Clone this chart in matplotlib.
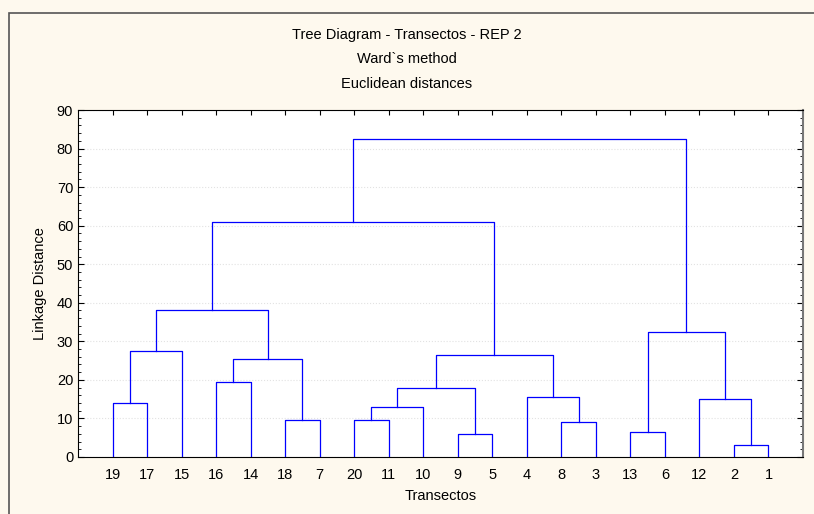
import matplotlib.pyplot as plt
from matplotlib.patches import Rectangle
from matplotlib.ticker import MultipleLocator

plt.rcParams['font.family'] = ['Liberation Sans', 'DejaVu Sans']

leaves = ['19', '17', '15', '16', '14', '18', '7', '20', '11', '10',
          '9', '5', '4', '8', '3', '13', '6', '12', '2', '1']
# merges: (name, left child, right child, height)
merges = [
    ('a', '19', '17', 14), ('b', 'a', '15', 27.5),
    ('c', '16', '14', 19.5), ('d', '18', '7', 9.5), ('e', 'c', 'd', 25.5),
    ('f', 'b', 'e', 38),
    ('g', '20', '11', 9.5), ('h', 'g', '10', 13), ('i', '9', '5', 6),
    ('j', 'h', 'i', 18), ('k', '8', '3', 9), ('l', '4', 'k', 15.5),
    ('m', 'j', 'l', 26.5), ('n', 'f', 'm', 61),
    ('o', '13', '6', 6.5), ('p', '2', '1', 3), ('q', '12', 'p', 15),
    ('r', 'o', 'q', 32.5), ('root', 'n', 'r', 82.5),
]

fig = plt.figure(figsize=(8.14, 5.14), dpi=100, facecolor='#fef9ee')
fig.patches.append(Rectangle((9 / 814, -0.01), 1.0, 1 - 13 / 514 + 0.01, transform=fig.transFigure,
                             fill=False, edgecolor='#555555', linewidth=1.2))
ax = fig.add_axes([78 / 814, 1 - 457 / 514, 725 / 814, 347 / 514])

pos = {lab: (i + 1, 0.0) for i, lab in enumerate(leaves)}
for name, l, r, h in merges:
    xl, yl = pos[l]
    xr, yr = pos[r]
    ax.plot([xl, xl, xr, xr], [yl, h, h, yr], color='#0000ff', linewidth=0.9)
    pos[name] = ((xl + xr) / 2, h)

ax.set_xlim(0, 21)
ax.set_ylim(0, 90)
ax.set_yticks(range(0, 91, 10))
ax.yaxis.set_minor_locator(MultipleLocator(2))
ax.set_xticks(range(1, 21))
ax.set_xticklabels(leaves)
ax.grid(axis='y', linestyle=':', color='#e2e2e2', linewidth=0.8)
ax.set_axisbelow(True)
ax.tick_params(which='both', direction='in', top=True, right=True)
ax.tick_params(axis='x', bottom=False, labelsize=10.5, pad=8)
ax.tick_params(axis='y', labelsize=10.5, length=4)
ax.tick_params(which='minor', length=2)
ax.spines['right'].set_color('#777777')
ax.spines['right'].set_linewidth(1.5)
ax.set_ylabel('Linkage Distance', fontsize=10.5, labelpad=7)
ax.set_xlabel('Transectos', fontsize=10.5, labelpad=5)
fig.text(0.5, 1 - 35 / 514, 'Tree Diagram - Transectos - REP 2', ha='center', va='center', fontsize=10.5)
fig.text(0.5, 1 - 59 / 514, 'Ward`s method', ha='center', va='center', fontsize=10.5)
fig.text(0.5, 1 - 84 / 514, 'Euclidean distances', ha='center', va='center', fontsize=10.5)

fig.savefig('out.png', dpi=100, facecolor=fig.get_facecolor())
